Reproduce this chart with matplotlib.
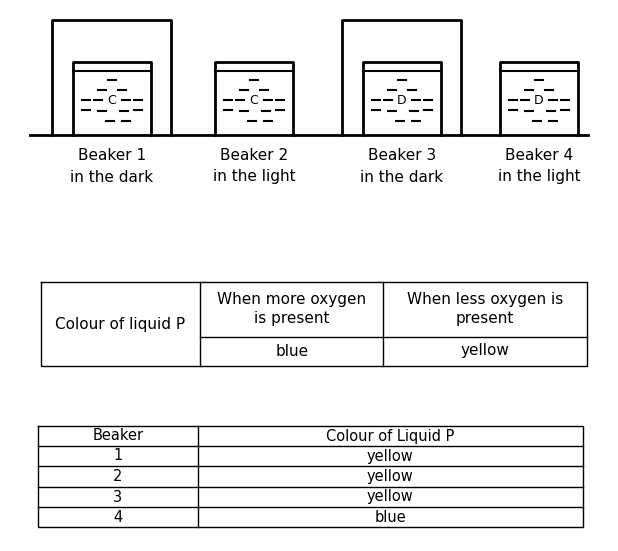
import matplotlib
matplotlib.use("Agg")
import matplotlib.pyplot as plt

beaker_names = ["Beaker 1", "Beaker 2", "Beaker 3", "Beaker 4"]
beaker_places = ["in the dark", "in the light", "in the dark", "in the light"]
beaker_liquid = ["C", "C", "D", "D"]
covered = [True, False, True, False]

key_head = "Colour of liquid P"
key_cols = ["When more oxygen\nis present", "When less oxygen is\npresent"]
key_vals = ["blue", "yellow"]

result_head = ["Beaker", "Colour of Liquid P"]
result_beaker = ["1", "2", "3", "4"]
result_colour = ["yellow", "yellow", "yellow", "blue"]

fig = plt.figure(figsize=(6.18, 5.51), dpi=100)
ax = fig.add_axes([0, 0, 1, 1])
ax.set_xlim(0, 618)
ax.set_ylim(551, 0)
ax.axis("off")
plt.rcParams["font.family"] = ["DejaVu Sans"]
lw = 2

# ground
ax.plot([30, 588], [135, 135], color="black", lw=lw)
centers = [112, 254, 402, 539]
for cx, name, place, liq, cov in zip(centers, beaker_names, beaker_places, beaker_liquid, covered):
    l, r, t, b = cx - 39, cx + 39, 62, 135
    ax.plot([l, l, r, r], [b, t, t, b], color="black", lw=lw)
    ax.plot([l, r], [71, 71], color="black", lw=1.5)
    ax.text(cx, 101, liq, ha="center", va="center", fontsize=9)
    dashes = [(0, 80), (-10, 90), (10, 90), (-26, 100), (-14, 100), (14, 100), (26, 100),
              (-26, 110), (-10, 111), (12, 111), (26, 110), (-2, 121), (14, 121)]
    for dx, y in dashes:
        ax.plot([cx + dx - 4, cx + dx + 4], [y, y], color="black", lw=1.5)
    if cov:
        ax.plot([cx - 60, cx - 60, cx + 59, cx + 59], [135, 20, 20, 135], color="black", lw=lw)
    ax.text(cx, 155, name, ha="center", va="center", fontsize=11)
    ax.text(cx, 177, place, ha="center", va="center", fontsize=11)

# key table
k = dict(color="black", lw=1)
ax.plot([41, 587, 587, 41, 41], [282, 282, 366, 366, 282], **k)
ax.plot([200, 200], [282, 366], **k)
ax.plot([383, 383], [282, 366], **k)
ax.plot([200, 587], [337, 337], **k)
ax.text(120, 325, key_head, ha="center", va="center", fontsize=11)
for cx, head, val in zip([292, 485], key_cols, key_vals):
    ax.text(cx, 309, head, ha="center", va="center", fontsize=11, linespacing=1.3)
    ax.text(cx, 351, val, ha="center", va="center", fontsize=11)

# results table
rows = [426, 446, 466, 487, 507, 527]
ax.plot([38, 583, 583, 38, 38], [426, 426, 527, 527, 426], **k)
ax.plot([198, 198], [426, 527], **k)
for y in rows[1:-1]:
    ax.plot([38, 583], [y, y], **k)
ax.text(118, 436, result_head[0], ha="center", va="center", fontsize=10.5)
ax.text(390, 436, result_head[1], ha="center", va="center", fontsize=10.5)
for i, (bk, col) in enumerate(zip(result_beaker, result_colour)):
    y = (rows[i + 1] + rows[i + 2]) / 2
    ax.text(118, y, bk, ha="center", va="center", fontsize=10.5)
    ax.text(390, y, col, ha="center", va="center", fontsize=10.5)

fig.savefig("out.png", dpi=100)
